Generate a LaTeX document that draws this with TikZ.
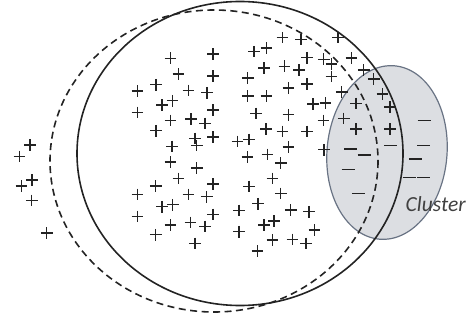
\documentclass[tikz,border=0pt]{standalone}
\usepackage{fontspec}
\setmainfont{Carlito}
\definecolor{clfill}{RGB}{220,222,226}
\definecolor{cledge}{RGB}{105,115,132}
\definecolor{ink}{RGB}{35,35,35}
\begin{document}
\begin{tikzpicture}[x=1pt,y=-1pt,
  mk/.style={draw=ink,line width=1.45pt},
  solidring/.style={draw=ink,line width=1.6pt},
  dashring/.style={draw=ink,line width=1.6pt,dash pattern=on 7pt off 4.5pt},
  clusterfill/.style={fill=clfill,draw=cledge,line width=1.2pt},
  pl/.pic={\draw[mk] (-5.8,0)--(5.8,0) (0,-5.8)--(0,5.8);},
  mn/.pic={\draw[mk] (-6.5,0)--(6.5,0);}]
\useasboundingbox (0,0) rectangle (468,321);
% cluster ellipse
\draw[clusterfill,rotate around={-5:(387,152.5)}] (387,152.5) ellipse [x radius=60,y radius=87];
% solid and dashed rings
\draw[solidring] (240,153.5) ellipse [x radius=163,y radius=152];
\draw[dashring] (214,161) ellipse [x radius=164,y radius=151];
% plus signs
\foreach \p in {
 (30,145),(19.5,156.5),(32,180),(21.5,186),(31.7,200.3),(46.7,233),
 (170.5,58.3),(213,54),(178.3,74.2),(213,76),(156,84.7),(137.5,91),(188.3,90.5),(207,92.7),
 (172.5,100.7),(162,105),(137.5,112.3),(213,110),(170.5,120.3),(191,119),(205,123.3),
 (156,130.7),(195,138.3),(213,137),(172,146.5),(196.7,145.5),
 (170.5,162),(196.7,167.8),(178.3,178.3),(155.7,186),(213,184.2),(137.3,194.3),(188.3,194.3),
 (206.7,196.7),(162,206.7),(172.7,204.7),(137.3,216.3),(213,214.5),(170.3,225),(190.5,222.5),
 (205,226.3),(155.7,234.7),(195,243.3),
 (282.3,37.7),(301,39.7),(338,37.7),(254.2,51.7),(266.5,48),(307,57.7),(323.7,59.3),(331.5,64),
 (351.5,58),(264.2,68),(284.5,66.3),(299,70),(331.5,76.3),(363.7,70),(373.7,78.8),(247.7,78),
 (288.3,88),(307,84.2),(341.7,91.8),(382.5,94.2),(247.7,96.2),(266.5,96.2),(313.2,104.2),
 (325.3,102.8),(355.8,103.3),(390,107),(255.8,113.3),(288.3,114.7),(323.3,120.3),(343.7,118.3),
 (356,129),(390,129),(266.2,128.8),(282.5,131.3),(306.8,131.3),(237.5,141.5),(249.2,139.5),
 (288.3,147),(324,149.7),(247.5,157),(267.5,154.5),(280.7,163),(272.5,178.3),(249.2,186.3),
 (280.7,193.3),(257.8,203.7),(239.2,210.5),(290.7,210),(309,211.7),(264.2,225),(274.2,221),
 (239.2,231.7),(314.5,230),(272.5,240),(292.5,239.5),(306.2,243.3),(257.5,250.8)}
 \pic at \p {pl};
% minus signs
\foreach \p in {(424,120.7),(390.7,145.5),(423.5,145.5),(350.7,149.2),(364,155),(415.3,159.2),
 (348,169.3),(409,177.5),(423.5,177.5),(358.3,193.3)}
 \pic at \p {mn};
\node[anchor=base west,inner sep=0pt,font=\fontsize{21.5}{25}\selectfont\itshape,text=black!75] (lbl) at (405.5,211) {Cluster};
\end{tikzpicture}
\end{document}
